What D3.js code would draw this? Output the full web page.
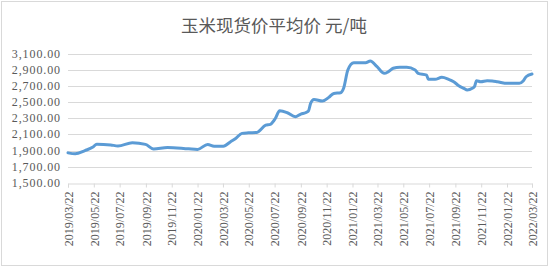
<!DOCTYPE html>
<html><head><meta charset="utf-8">
<script src="https://cdn.jsdelivr.net/npm/d3@7"></script>
<style>body{margin:0;background:#fff}svg{display:block}</style>
</head><body><svg id="c" width="550" height="268"></svg>
<script>
const title = "玉米现货价平均价 元/吨";
const dates = ["2019-03-22","2019-04-08","2019-05-01","2019-05-20","2019-05-29","2019-07-01","2019-07-18","2019-08-21","2019-09-21","2019-10-10","2019-11-12","2020-01-01","2020-01-22","2020-02-15","2020-03-01","2020-03-23","2020-04-09","2020-04-21","2020-05-06","2020-05-21","2020-06-10","2020-07-01","2020-07-12","2020-07-24","2020-08-03","2020-08-21","2020-09-09","2020-09-22","2020-10-03","2020-10-10","2020-10-15","2020-10-23","2020-11-12","2020-11-27","2020-12-09","2020-12-25","2021-01-01","2021-01-11","2021-01-25","2021-02-10","2021-02-22","2021-03-05","2021-03-21","2021-04-07","2021-04-17","2021-04-28","2021-05-14","2021-05-30","2021-06-19","2021-06-26","2021-07-16","2021-07-20","2021-08-05","2021-08-21","2021-09-06","2021-09-18","2021-09-30","2021-10-12","2021-10-20","2021-11-01","2021-11-06","2021-11-11","2021-11-21","2021-12-06","2021-12-18","2021-12-30","2022-01-23","2022-02-20","2022-03-01","2022-03-08","2022-03-22"];
const values = [1872,1860,1900,1945,1980,1970,1958,1997,1977,1920,1940,1922,1915,1977,1955,1955,2010,2050,2113,2120,2125,2215,2225,2300,2392,2368,2318,2352,2368,2389,2484,2533,2512,2558,2607,2615,2670,2896,2986,2986,2986,3007,2937,2855,2876,2917,2929,2929,2896,2855,2834,2781,2781,2806,2781,2751,2702,2670,2649,2670,2690,2764,2751,2764,2760,2751,2731,2731,2760,2813,2847];
const yTicks = [1500,1700,1900,2100,2300,2500,2700,2900,3100];
const xTickLabels = ["2019/03/22","2019/05/22","2019/07/22","2019/09/22","2019/11/22","2020/01/22","2020/03/22","2020/05/22","2020/07/22","2020/09/22","2020/11/22","2021/01/22","2021/03/22","2021/05/22","2021/07/22","2021/09/22","2021/11/22","2022/01/22","2022/03/22"];

(function(){
const svg = d3.select("#c");
const parse = d3.timeParse("%Y-%m-%d");
const parseT = d3.timeParse("%Y/%m/%d");
const data = dates.map((d,i)=>({d:parse(d), v:values[i]}));
const L=68, R=532, T=53.5, B=183;
const x = d3.scaleTime().domain([parseT(xTickLabels[0]), parseT(xTickLabels[xTickLabels.length-1])]).range([L,R]);
const y = d3.scaleLinear().domain([1500,3100]).range([B,T]);
const txt = "#595959", grid="#d9d9d9";

svg.append("rect").attr("x",1.5).attr("y",1.5).attr("width",546).attr("height",264).attr("fill","#fff").attr("stroke","#d9d9d9");

svg.append("text").attr("x",274).attr("y",32).attr("text-anchor","middle")
  .attr("font-family","'Noto Sans CJK SC'").attr("font-size",17.5).attr("fill",txt).text(title);

svg.append("g").selectAll("line").data(yTicks.slice(1)).join("line")
  .attr("x1",L).attr("x2",R).attr("y1",d=>Math.round(y(d))+0.5).attr("y2",d=>Math.round(y(d))+0.5)
  .attr("stroke",grid).attr("stroke-width",1);

svg.append("g").selectAll("text").data(yTicks).join("text")
  .attr("x",61).attr("y",d=>y(d)+4).attr("text-anchor","end")
  .attr("font-family","'Liberation Serif'").attr("font-size",12).attr("fill",txt)
  .attr("letter-spacing",0.9)
  .text(d=>d3.format(",.2f")(d));

const xa = svg.append("g").attr("transform",`translate(0,${Math.round(B)+0.5})`)
  .call(d3.axisBottom(x).tickValues(xTickLabels.map(parseT)).tickSize(4).tickFormat(d3.timeFormat("%Y/%m/%d")));
xa.select(".domain").attr("stroke",grid);
xa.selectAll(".tick line").attr("stroke",grid);
xa.selectAll(".tick text").attr("font-family","'Liberation Serif'").attr("font-size",12).attr("fill",txt)
  .attr("transform","rotate(-90)").attr("text-anchor","end").attr("x",-8).attr("y",0).attr("dy","0.35em");

svg.append("path").datum(data)
  .attr("d",d3.line().x(d=>x(d.d)).y(d=>y(d.v)).curve(d3.curveMonotoneX))
  .attr("fill","none").attr("stroke","#5b9bd5").attr("stroke-width",3).attr("stroke-linejoin","round").attr("stroke-linecap","round");
})();
</script></body></html>
